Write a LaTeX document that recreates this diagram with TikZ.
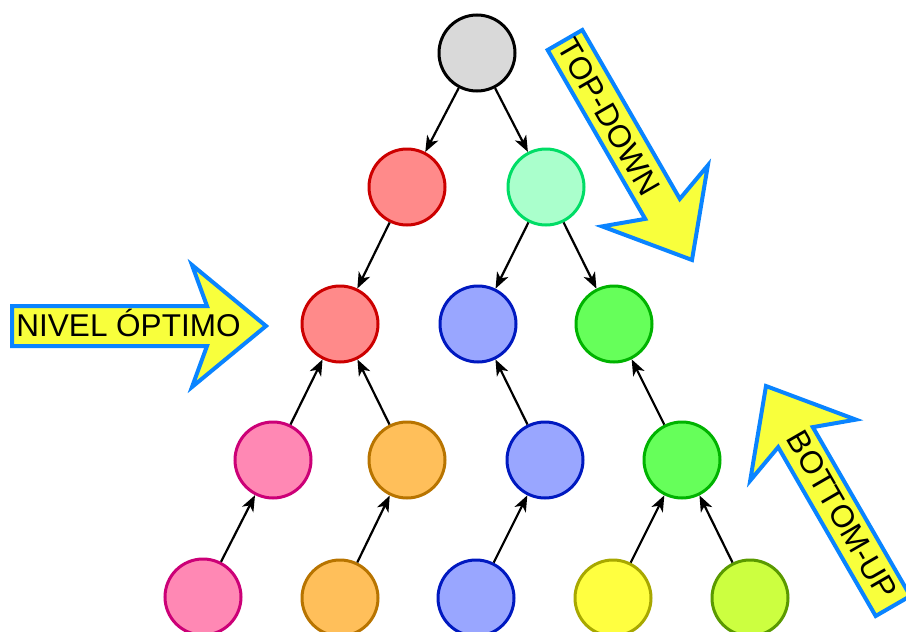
\documentclass[tikz,border=0pt]{standalone}
\usepackage{fontspec}
\setmainfont{Liberation Sans}
\usetikzlibrary{arrows.meta}
\definecolor{grayF}{HTML}{D9D9D9}
\definecolor{redF}{HTML}{FF8A8A}\definecolor{redD}{HTML}{CC0000}
\definecolor{lgrF}{HTML}{AAFFCC}\definecolor{lgrD}{HTML}{00DD66}
\definecolor{bluF}{HTML}{99A6FF}\definecolor{bluD}{HTML}{0019C0}
\definecolor{grnF}{HTML}{66FF5A}\definecolor{grnD}{HTML}{00B300}
\definecolor{pnkF}{HTML}{FF88B4}\definecolor{pnkD}{HTML}{CC0077}
\definecolor{orgF}{HTML}{FFBF5A}\definecolor{orgD}{HTML}{B87400}
\definecolor{yelF}{HTML}{FFFF40}\definecolor{yelD}{HTML}{A8A800}
\definecolor{ygrF}{HTML}{CCFF40}\definecolor{ygrD}{HTML}{5A9A00}
\definecolor{arrB}{HTML}{0A84FF}\definecolor{arrF}{HTML}{F8FF3C}
\begin{document}
\begin{tikzpicture}[x=1pt,y=-1pt,
  nd/.style={circle,minimum size=76pt,inner sep=0pt,line width=3pt},
  c-gray/.style={nd,draw=black,fill=grayF},
  c-red/.style={nd,draw=redD,fill=redF},
  c-lgr/.style={nd,draw=lgrD,fill=lgrF},
  c-blu/.style={nd,draw=bluD,fill=bluF},
  c-grn/.style={nd,draw=grnD,fill=grnF},
  c-pnk/.style={nd,draw=pnkD,fill=pnkF},
  c-org/.style={nd,draw=orgD,fill=orgF},
  c-yel/.style={nd,draw=yelD,fill=yelF},
  c-ygr/.style={nd,draw=ygrD,fill=ygrF},
  conn/.style={line width=2.2pt,-{Stealth[length=16pt,width=12.5pt,inset=4.5pt]}},
  bigarr/.style={draw=arrB,fill=arrF,line width=4pt,line join=miter},
  lbl/.style={inner sep=0pt,font=\fontsize{31.5}{36}\selectfont}
]
\useasboundingbox (0,0) rectangle (906,632);

% big arrows
\begin{scope}[shift={(12,326)}]
  \draw[bigarr] (0,-20) -- (195,-20) -- (180,-61) -- (254,0) -- (180,61) -- (195,20) -- (0,20) -- cycle;
\end{scope}
\begin{scope}[shift={(565,40)},rotate=-60]
  \draw[bigarr] (0,-20) -- (195,-20) -- (180,-61) -- (254,0) -- (180,61) -- (195,20) -- (0,20) -- cycle;
\end{scope}
\begin{scope}[shift={(893,606)},rotate=120]
  \draw[bigarr] (0,-20) -- (195,-20) -- (180,-61) -- (254,0) -- (180,61) -- (195,20) -- (0,20) -- cycle;
\end{scope}
\node[lbl,anchor=base] (tnivel) at (128.5,336) {NIVEL ÓPTIMO};
\node[lbl,rotate=-60] (ttop) at (609,117) {TOP-DOWN};
\node[lbl,rotate=-60] (tbot) at (842,515) {BOTTOM-UP};

% nodes
\node[c-gray] (n0) at (477,53) {};
\node[c-red] (r1) at (407,187) {};
\node[c-lgr] (g1) at (546,187) {};
\node[c-red] (r2) at (340,324) {};
\node[c-blu] (b2) at (478,324) {};
\node[c-grn] (g2) at (614,324) {};
\node[c-pnk] (p3) at (273,460) {};
\node[c-org] (o3) at (407,460) {};
\node[c-blu] (b3) at (545,460) {};
\node[c-grn] (g3) at (682,460) {};
\node[c-pnk] (p4) at (203,597) {};
\node[c-org] (o4) at (340,598) {};
\node[c-blu] (b4) at (476,598) {};
\node[c-yel] (y4) at (613,598) {};
\node[c-ygr] (v4) at (750,598) {};

% top-down connectors
\draw[conn] (n0) -- (r1);
\draw[conn] (n0) -- (g1);
\draw[conn] (r1) -- (r2);
\draw[conn] (g1) -- (b2);
\draw[conn] (g1) -- (g2);
% bottom-up connectors
\draw[conn] (p3) -- (r2);
\draw[conn] (o3) -- (r2);
\draw[conn] (b3) -- (b2);
\draw[conn] (g3) -- (g2);
\draw[conn] (p4) -- (p3);
\draw[conn] (o4) -- (o3);
\draw[conn] (b4) -- (b3);
\draw[conn] (y4) -- (g3);
\draw[conn] (v4) -- (g3);
\end{tikzpicture}
\end{document}
